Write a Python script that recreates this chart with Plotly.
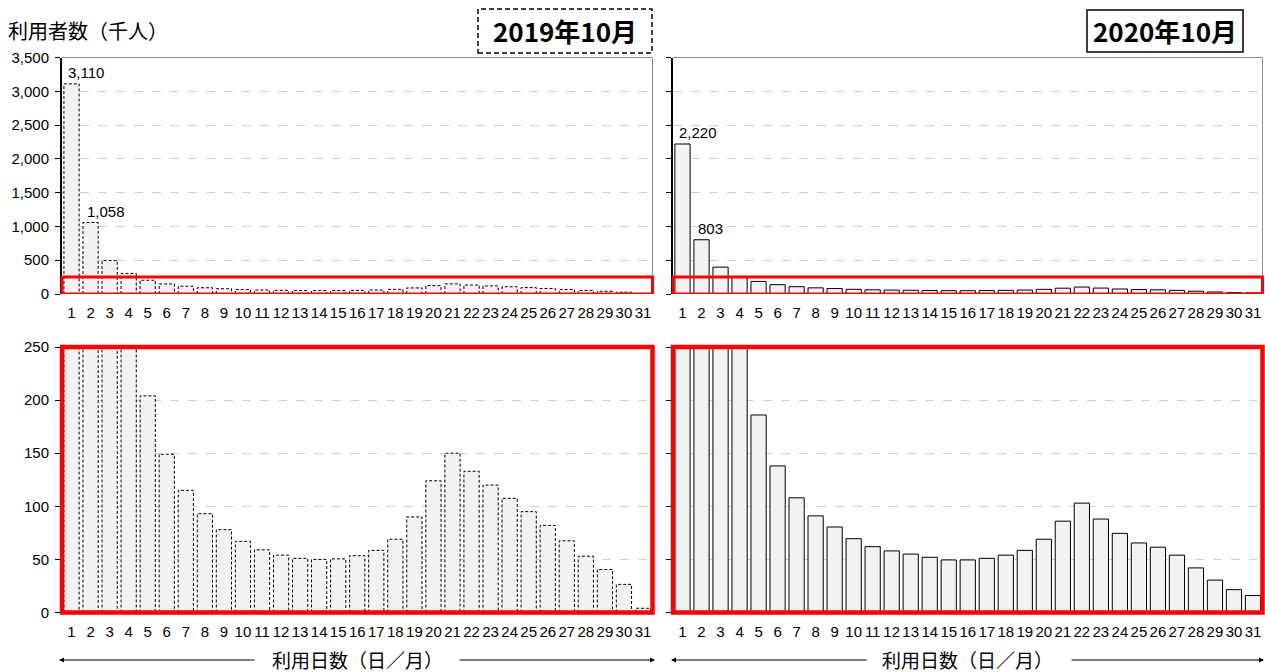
import plotly.graph_objects as go

days = list(range(1, 32))
day_labels = [str(d) for d in days]

users_2019 = [3110, 1058, 495, 305, 204, 149, 115, 93, 78, 67, 59, 54, 51, 50, 50.5, 53.5, 58.5,
              69, 90, 124, 150, 133, 120, 107.5, 95, 82, 67.5, 53, 40.5, 26.5, 4]
users_2020 = [2220, 803, 398, 260, 186, 138, 108, 91, 80.5, 69.5, 62, 58, 55, 52, 49.5, 49.5, 51,
              54, 58.5, 69, 86, 103, 88, 74.5, 65.5, 61.5, 54, 42, 30.5, 21.5, 16]

top_ticks = [0, 500, 1000, 1500, 2000, 2500, 3000, 3500]
top_ticktext = ["0", "500", "1,000", "1,500", "2,000", "2,500", "3,000", "3,500"]
bot_ticks = [0, 50, 100, 150, 200, 250]
bot_ticktext = ["0", "50", "100", "150", "200", "250"]

labels_2019 = {1: "3,110", 2: "1,058"}
labels_2020 = {1: "2,220", 2: "803"}

W, H = 1265, 672
FILL = "#f2f2f2"
BAR_W = 0.8
JP = "Noto Sans CJK JP"
LAT = "Liberation Sans, Arial"


def px(x):
    return x / W


def py(y):
    return 1 - y / H


def outline(vals):
    xs, ys = [], []
    for d, v in zip(days, vals):
        xs += [d - BAR_W / 2, d - BAR_W / 2, d + BAR_W / 2, d + BAR_W / 2, None]
        ys += [0, v, v, 0, None]
    return xs, ys


fig = go.Figure()

panels = [
    ("x", "y", users_2019, True),
    ("x2", "y2", users_2020, False),
    ("x3", "y3", users_2019, True),
    ("x4", "y4", users_2020, False),
]

for xa, ya, vals, dashed in panels:
    fig.add_trace(go.Bar(x=days, y=vals, xaxis=xa, yaxis=ya, marker_color=FILL,
                         marker_line_width=0, width=BAR_W, hoverinfo="skip", showlegend=False))
    ox, oy = outline(vals)
    fig.add_trace(go.Scatter(x=ox, y=oy, xaxis=xa, yaxis=ya, mode="lines",
                             line=dict(color="#000000", width=1,
                                       dash="3px,2px" if dashed else "solid"),
                             hoverinfo="skip", showlegend=False))

dom_top = [py(294), py(57.5)]
dom_bot = [py(612.5), py(347)]
dom_left = [px(62), px(652.5)]
dom_right = [px(673), px(1262.5)]

xcommon = dict(range=[0.5, 31.5], tickmode="array", tickvals=days, ticktext=day_labels,
               tickfont=dict(family=LAT, size=15, color="#000"), showgrid=False,
               zeroline=False, showline=False, ticks="", ticklabelstandoff=8, fixedrange=True,
               automargin=False)
ycommon = dict(showgrid=True, gridcolor="#d0d0d0", griddash="dash", gridwidth=1,
               zeroline=False, tickfont=dict(family=LAT, size=15, color="#000"),
               ticks="outside", ticklen=5, tickcolor="#000", showline=True,
               linecolor="#000", linewidth=2, fixedrange=True, automargin=False)

fig.update_layout(
    width=W, height=H, margin=dict(l=0, r=0, t=0, b=0, autoexpand=False),
    paper_bgcolor="white", plot_bgcolor="white", bargap=0.2,
    xaxis=dict(domain=dom_left, anchor="y", **xcommon),
    xaxis2=dict(domain=dom_right, anchor="y2", **xcommon),
    xaxis3=dict(domain=dom_left, anchor="y3", **xcommon),
    xaxis4=dict(domain=dom_right, anchor="y4", **xcommon),
    yaxis=dict(domain=dom_top, anchor="x", range=[0, 3500], tickvals=top_ticks,
               ticktext=top_ticktext, ticklabelstandoff=3, **ycommon),
    yaxis2=dict(domain=dom_top, anchor="x2", range=[0, 3500], tickvals=top_ticks,
                showticklabels=False, **ycommon),
    yaxis3=dict(domain=dom_bot, anchor="x3", range=[0, 250], tickvals=bot_ticks,
                ticktext=bot_ticktext, ticklabelstandoff=3, **ycommon),
    yaxis4=dict(domain=dom_bot, anchor="x4", range=[0, 250], tickvals=bot_ticks,
                showticklabels=False, **ycommon),
)

shapes = []
for xa, ya in [("x", "y"), ("x2", "y2")]:
    shapes.append(dict(type="path", xref=f"{xa} domain", yref=f"{ya} domain",
                       path="M 0 1 L 1 1 L 1 0", line=dict(color="#8c8c8c", width=1)))
    shapes.append(dict(type="rect", xref=f"{xa} domain", yref=ya, x0=0, x1=1, y0=0, y1=250,
                       line=dict(color="#ff0000", width=3)))
for xa, ya in [("x3", "y3"), ("x4", "y4")]:
    shapes.append(dict(type="rect", xref=f"{xa} domain", yref=f"{ya} domain", x0=0, x1=1,
                       y0=0, y1=1, line=dict(color="#ff0000", width=4.5)))
shapes.append(dict(type="rect", xref="paper", yref="paper", x0=px(478), x1=px(652),
                   y0=py(53), y1=py(9), line=dict(color="#000", width=1.5, dash="5px,3px")))
shapes.append(dict(type="rect", xref="paper", yref="paper", x0=px(1087), x1=px(1243),
                   y0=py(52), y1=py(10), line=dict(color="#000", width=1.5)))

annotations = []
for t, cx in [("2019年10月", 565), ("2020年10月", 1165)]:
    annotations.append(dict(text=t, x=px(cx), y=py(31), xref="paper", yref="paper",
                            xanchor="center", yanchor="middle", showarrow=False,
                            font=dict(family=JP, size=26, color="#000", weight="bold")))
annotations.append(dict(text="利用者数（千人）", x=px(6), y=py(31), xref="paper", yref="paper",
                        xanchor="left", yanchor="middle", showarrow=False,
                        font=dict(family=JP, size=20, color="#000")))

for xa, ya, labels, vals in [("x", "y", labels_2019, users_2019),
                             ("x2", "y2", labels_2020, users_2020)]:
    for d, t in labels.items():
        annotations.append(dict(text=t, x=d, y=vals[d - 1], xref=xa, yref=ya, xanchor="left",
                                yanchor="bottom", xshift=-6, yshift=1, showarrow=False,
                                font=dict(family=LAT, size=15, color="#000")))

for cx, lx0, lx1, rx0, rx1 in [(357, 59, 256, 458, 655), (967, 671, 868, 1070, 1264)]:
    annotations.append(dict(text="利用日数（日／月）", x=px(cx), y=py(659), xref="paper",
                            yref="paper", xanchor="center", yanchor="middle", showarrow=False,
                            font=dict(family=JP, size=19, color="#000")))
    annotations.append(dict(text="", x=px(lx0), y=py(660), xref="paper", yref="paper",
                            ax=lx1 - lx0, ay=0, showarrow=True, arrowhead=2, arrowsize=1,
                            arrowwidth=1, arrowcolor="#000"))
    annotations.append(dict(text="", x=px(rx1), y=py(660), xref="paper", yref="paper",
                            ax=-(rx1 - rx0), ay=0, showarrow=True, arrowhead=2, arrowsize=1,
                            arrowwidth=1, arrowcolor="#000"))

fig.update_layout(shapes=shapes, annotations=annotations)

fig.write_html("out.html", config={"displayModeBar": False},
               post_script="document.body.style.margin='0';"
                           "document.documentElement.style.overflow='hidden';")
